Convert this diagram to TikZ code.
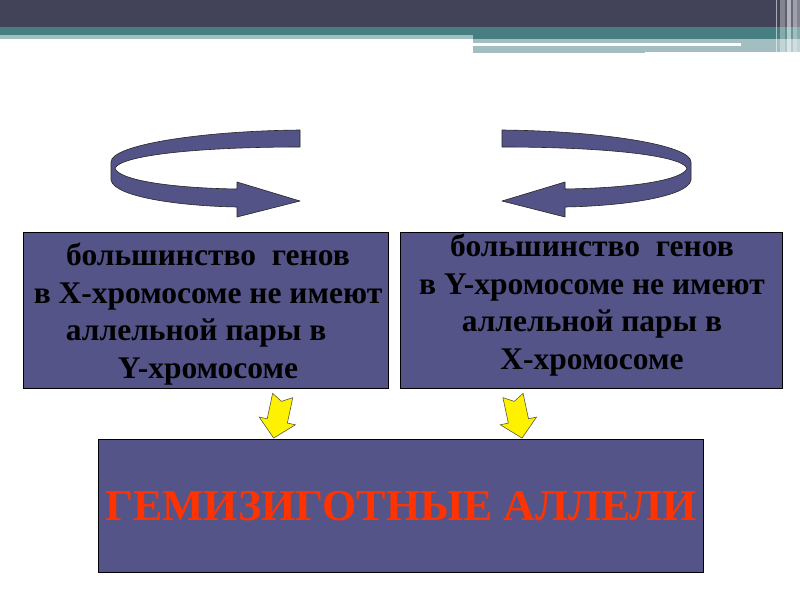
\documentclass[tikz,border=0pt]{standalone}
\usepackage{fontspec}
\setmainfont{Liberation Serif}
\definecolor{hdark}{RGB}{66,67,88}
\definecolor{hteal}{RGB}{70,126,130}
\definecolor{hlight}{RGB}{162,190,193}
\definecolor{boxblue}{RGB}{84,84,137}
\definecolor{arrowblue}{RGB}{83,83,135}
\definecolor{titlered}{RGB}{255,51,0}
\definecolor{yedge}{RGB}{90,90,60}
\tikzset{
  box/.style={draw=black, line width=1pt, fill=boxblue, inner sep=0pt, anchor=north west},
  btext/.style={align=center, text=black, font=\bfseries\fontsize{31.5}{37.5}\selectfont},
  curvearrow/.style={fill=arrowblue, draw=black!85, line width=0.6pt, line join=round},
  yarrow/.style={fill=yellow, draw=yedge, line width=0.6pt, line join=miter},
}
\begin{document}
\begin{tikzpicture}[x=1pt,y=-1pt]
\useasboundingbox (0,0) rectangle (800,600);
\fill[white] (0,0) rectangle (800,600);
% header
\fill[hdark] (0,0) rectangle (800,27);
\fill[hteal] (0,27) rectangle (800,35);
\fill[hlight] (0,35) rectangle (473,39);
\fill[hteal] (473,35) rectangle (800,39);
\fill[hlight] (473,39) rectangle (645,53);
\fill[hlight] (645,39) rectangle (800,52);
\fill[white] (473,43) rectangle (741,46);
\fill[white,opacity=0.55] (775.7,0) rectangle (776.7,54);
\fill[white,opacity=0.35] (780,0) rectangle (785,54);
\fill[white,opacity=0.15] (785,0) rectangle (787,54);
\fill[white,opacity=0.6] (787,0) rectangle (790.5,54);
\fill[white,opacity=0.2] (790.5,0) rectangle (792.5,54);
\fill[white,opacity=0.5] (792.5,0) rectangle (796.5,54);
\fill[white,opacity=0.35] (796.5,0) rectangle (800,54);
% curved arrows
\path[curvearrow] (300,130) .. controls (200,131) and (111,145) .. (111,162)
  -- (111,180) .. controls (114,197) and (180,206) .. (237,207)
  -- (237,217) -- (300,201) -- (237,182) -- (237,189)
  .. controls (170,188) and (118,180) .. (115,168)
  .. controls (122,155) and (200,147) .. (300,147) -- cycle;
\begin{scope}[xshift=802pt, xscale=-1]
\path[curvearrow] (300,130) .. controls (200,131) and (111,145) .. (111,162)
  -- (111,180) .. controls (114,197) and (180,206) .. (237,207)
  -- (237,217) -- (300,201) -- (237,182) -- (237,189)
  .. controls (170,188) and (118,180) .. (115,168)
  .. controls (122,155) and (200,147) .. (300,147) -- cycle;
\end{scope}
% boxes
\node[box, minimum width=365pt, minimum height=156pt] (b1) at (23,232) {};
\node[box, minimum width=382pt, minimum height=156pt] (b2) at (400,232) {};
\node[box, minimum width=605pt, minimum height=133pt] (b3) at (98,439) {};
\node[btext] (t1) at (208,314) {большинство~~генов\\в X-хромосоме~не имеют\\аллельной пары в\hphantom{~~~}\\Y-хромосоме};
\node[btext] (t2) at (592,305) {большинство~~генов\\в Y-хромосоме не имеют\\аллельной пары в\\X-хромосоме};
\node[text=titlered, font=\bfseries\fontsize{44}{50}\selectfont] (t3) at (b3.center) {ГЕМИЗИГОТНЫЕ АЛЛЕЛИ};
% yellow arrows
\begin{scope}[shift={(282.7,395.5)}, rotate=-12]
\path[yarrow] (-10.3,0) -- (0,6) -- (10.3,0) -- (10.3,26) -- (18.5,26) -- (0,43.5) -- (-18.5,26) -- (-10.3,26) -- cycle;
\end{scope}
\begin{scope}[shift={(513,395.5)}, rotate=12]
\path[yarrow] (-10.3,0) -- (0,6) -- (10.3,0) -- (10.3,26) -- (18.5,26) -- (0,43.5) -- (-18.5,26) -- (-10.3,26) -- cycle;
\end{scope}
\end{tikzpicture}
\end{document}
